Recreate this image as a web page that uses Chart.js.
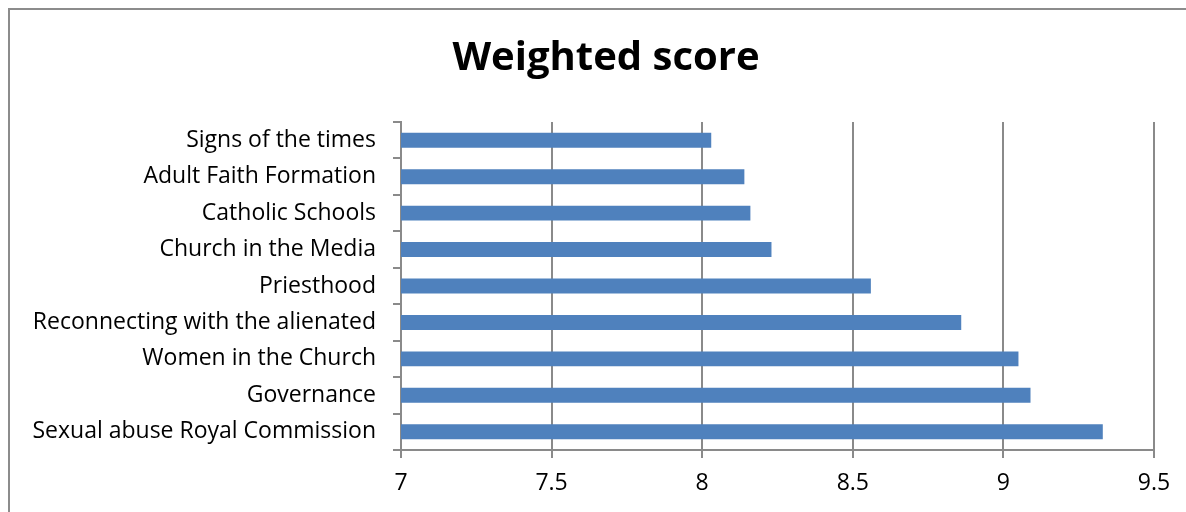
<!DOCTYPE html>
<html>
<head>
<meta charset="utf-8">
<script src="https://cdn.jsdelivr.net/npm/chart.js@4"></script>
<style>
  html, body { margin: 0; padding: 0; background: #fff; overflow: hidden; }
  #frame {
    position: absolute; left: 8px; top: 8px;
    width: 1192px; height: 520px;
    border: 2px solid #8c8c8c;
  }
  #chart { display: block; }
</style>
</head>
<body>
<div id="frame"><canvas id="chart" width="1192" height="520"></canvas></div>
<script>
const categories = [
  'Signs of the times',
  'Adult Faith Formation',
  'Catholic Schools',
  'Church in the Media',
  'Priesthood',
  'Reconnecting with the alienated',
  'Women in the Church',
  'Governance',
  'Sexual abuse Royal Commission'
];
const scores = [8.03, 8.14, 8.16, 8.23, 8.56, 8.86, 9.05, 9.09, 9.33];
const xMin = 7;
const xMax = 9.5;
const xStep = 0.5;

const FONT = "'Open Sans', sans-serif";
const GRID = '#8a8a8a';

new Chart(document.getElementById('chart'), {
  type: 'bar',
  data: {
    labels: categories,
    datasets: [{
      label: 'Weighted score',
      data: scores,
      backgroundColor: '#4f81bd',
      borderWidth: 0,
      barPercentage: 0.41,
      categoryPercentage: 1
    }]
  },
  options: {
    indexAxis: 'y',
    responsive: false,
    animation: false,
    devicePixelRatio: 1,
    layout: { padding: 0 },
    plugins: {
      legend: { display: false },
      tooltip: { enabled: false },
      title: {
        display: true,
        text: 'Weighted score',
        color: '#000',
        font: { family: FONT, size: 40, weight: 'bold' },
        padding: { top: 25, bottom: 39 }
      }
    },
    scales: {
      x: {
        min: xMin,
        max: xMax,
        // keep room on the right without shrinking the title box
        afterFit: s => { s.height = 80; s.paddingRight = 48; },
        grid: { color: GRID, lineWidth: 2, tickLength: 8 },
        border: { color: GRID, width: 2 },
        ticks: {
          stepSize: xStep,
          color: '#000',
          padding: 12,
          font: { family: FONT, size: 23 },
          callback: v => String(v)
        }
      },
      y: {
        afterFit: s => { s.width = 391; },
        grid: { drawOnChartArea: false, color: GRID, lineWidth: 2, tickLength: 8 },
        border: { color: GRID, width: 2 },
        ticks: {
          color: '#000',
          padding: 17,
          font: { family: FONT, size: 23 }
        }
      }
    }
  }
});
</script>
</body>
</html>
